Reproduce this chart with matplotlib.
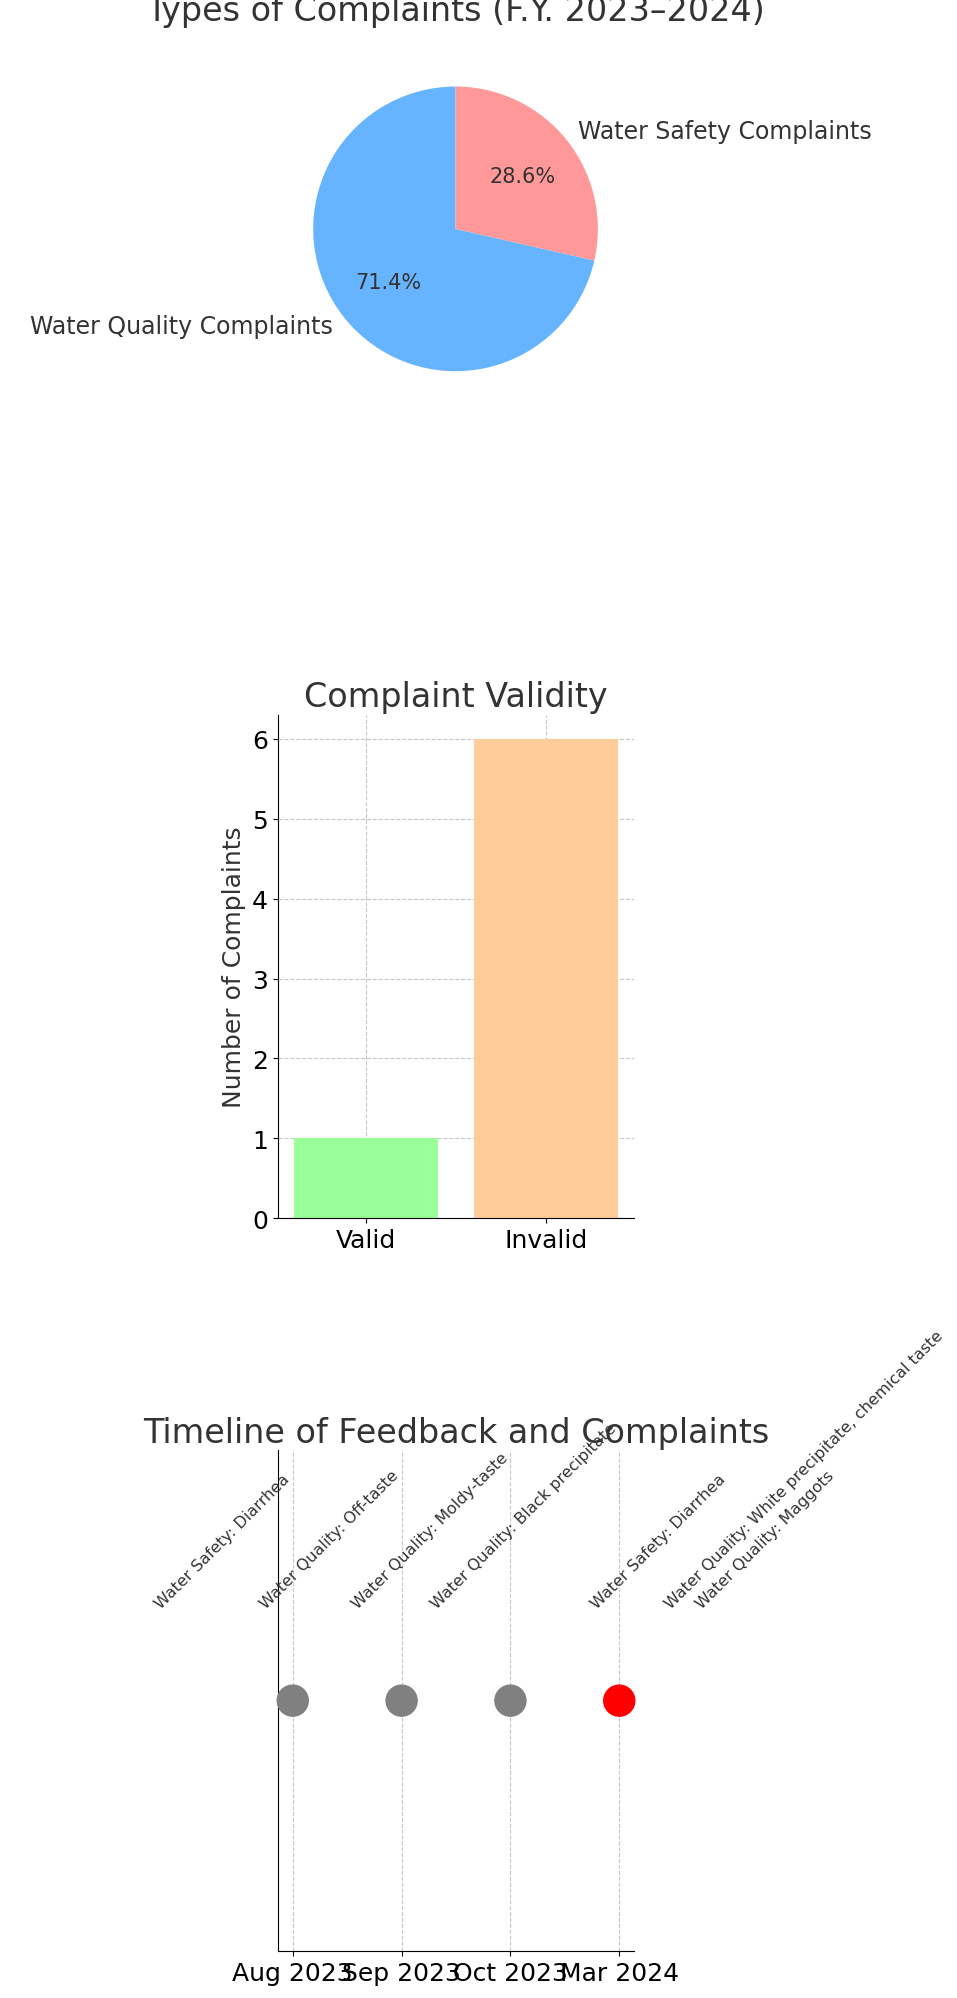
import matplotlib.pyplot as plt

plt.rcParams['text.color'] = '#333333'
plt.rcParams['axes.labelcolor'] = '#333333'

tipos = ["Water Quality Complaints", "Water Safety Complaints"]
tipos_valores = [5, 2]
tipos_colores = ["#66b3ff", "#ff9999"]

validez = ["Valid", "Invalid"]
validez_valores = [1, 6]
validez_colores = ["#99ff99", "#ffcc99"]

fechas = ["Aug 2023", "Sep 2023", "Oct 2023", "Mar 2024"]
fechas_colores = ["gray", "gray", "gray", "red"]
eventos = [
    "Water Safety: Diarrhea",
    "Water Quality: Off-taste",
    "Water Quality: Moldy-taste",
    "Water Quality: Black precipitate",
    "Water Safety: Diarrhea",
    "Water Quality: Maggots",
    "Water Quality: White precipitate, chemical taste",
]

fig = plt.figure(figsize=(9.57, 19.99), dpi=100)

# Pastel
ax1 = fig.add_axes([0.29, 0.796, 0.372, 0.178])
ax1.pie(tipos_valores, labels=tipos, colors=tipos_colores, autopct='%1.1f%%',
        startangle=90, textprops={'fontsize': 17})
for t in ax1.texts:
    if '%' in t.get_text():
        t.set_fontsize(15)
ax1.set_aspect('equal')
ax1.set_title("Types of Complaints (F.Y. 2023\u20132024)", fontsize=24, pad=22)

# Barras
ax2 = fig.add_axes([0.29, 0.39, 0.373, 0.252])
ax2.bar(validez, validez_valores, color=validez_colores)
ax2.set_title("Complaint Validity", fontsize=24)
ax2.set_ylabel("Number of Complaints", fontsize=18)
ax2.tick_params(labelsize=18)
ax2.grid(True, linestyle='--', alpha=0.7)
ax2.set_axisbelow(True)
ax2.spines['top'].set_visible(False)
ax2.spines['right'].set_visible(False)

# Linea de tiempo
ax3 = fig.add_axes([0.29, 0.0235, 0.373, 0.2505])
ax3.scatter(fechas, [1] * len(fechas), c=fechas_colores, s=500, zorder=3, clip_on=False)
for i, ev in enumerate(eventos):
    ax3.text(i, 1.36, ev, rotation=45, ha='right', va='bottom', fontsize=11.5)
ax3.set_xlim(-0.14, 3.14)
ax3.set_ylim(0, 2)
ax3.set_yticks([])
ax3.tick_params(axis='x', labelsize=18)
ax3.grid(True, axis='x', linestyle='--', alpha=0.7)
ax3.set_axisbelow(True)
ax3.spines['top'].set_visible(False)
ax3.spines['right'].set_visible(False)
ax3.set_title("Timeline of Feedback and Complaints", fontsize=24)

fig.savefig("out.png")
